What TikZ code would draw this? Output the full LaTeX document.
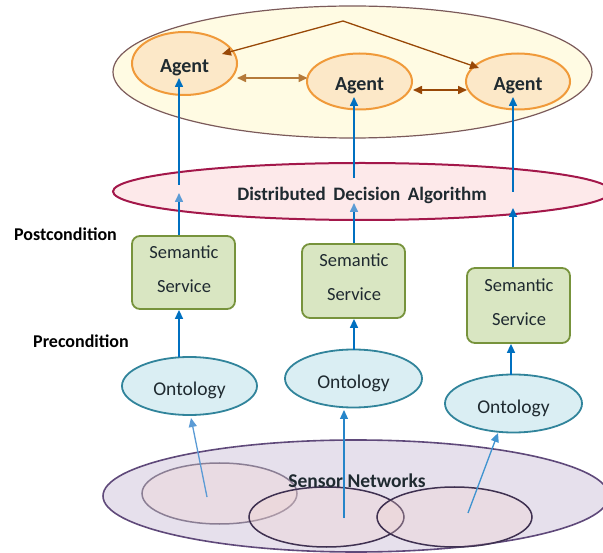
\documentclass[tikz,border=0pt]{standalone}
\usepackage{fontspec}
\setmainfont{Carlito}
\usetikzlibrary{shapes.geometric,arrows.meta}

\definecolor{masfill}{HTML}{FFFBE3}
\definecolor{masline}{HTML}{7B5A5A}
\definecolor{agentfill}{HTML}{FCE8C8}
\definecolor{agentline}{HTML}{F09A3A}
\definecolor{ddafill}{HTML}{FDE9EA}
\definecolor{ddaline}{HTML}{A3174A}
\definecolor{svcfill}{HTML}{D9E6C2}
\definecolor{svcline}{HTML}{77933C}
\definecolor{ontofill}{HTML}{DAEEF3}
\definecolor{ontoline}{HTML}{31849B}
\definecolor{snfill}{HTML}{E6E0EC}
\definecolor{snline}{HTML}{5F497A}
\definecolor{subfill}{HTML}{F2D2CF}
\definecolor{subline}{HTML}{3F3151}
\definecolor{flow}{HTML}{0070C0}
\definecolor{flowlight}{HTML}{5B9BD5}
\definecolor{brownA}{HTML}{984807}
\definecolor{brownB}{HTML}{B57A3A}
\definecolor{ink}{HTML}{1F2A30}

\tikzset{
  oval/.style={ellipse, inner sep=0pt, line width=1.6pt},
  agent/.style={oval, fill=agentfill, draw=agentline, line width=2pt,
    font=\fontsize{20}{22}\selectfont\bfseries, text=ink, text height=19pt, text depth=0pt},
  onto/.style={oval, fill=ontofill, draw=ontoline, line width=1.8pt,
    font=\fontsize{19.5}{22}\selectfont, text=ink, text height=20pt, text depth=0pt},
  svcbox/.style={rectangle, rounded corners=8pt, fill=svcfill, draw=svcline, line width=1.8pt,
    minimum width=103pt, inner sep=0pt},
  svctext/.style={anchor=base, inner sep=0pt, font=\fontsize{18.5}{20}\selectfont, text=ink},
  cond/.style={anchor=base, inner sep=0pt, font=\fontsize{18}{20}\selectfont\bfseries},
  flowarrow/.style={draw=flow, line width=1.6pt, -{Triangle[length=9pt,width=8pt]}},
  sensearrow/.style={line width=1.3pt, -{Triangle[length=9pt,width=8pt]}},
  talk/.style={line width=1.6pt, {Triangle[length=9pt,width=8pt]}-{Triangle[length=9pt,width=8pt]}},
}

\begin{document}
\begin{tikzpicture}[x=1pt, y=-1pt]
\useasboundingbox (0,0) rectangle (603,553);

% multi-agent layer
\node[oval, fill=masfill, draw=masline, line width=1.2pt,
  minimum width=479pt, minimum height=132pt] (mas) at (352.5,72) {};
\node[agent, minimum width=105pt, minimum height=63pt] (a1) at (184.5,63.5) {Agent};
\node[agent, minimum width=105pt, minimum height=56pt] (a2) at (359.5,81.5) {Agent};
\node[agent, minimum width=104pt, minimum height=56pt] (a3) at (518,81.5) {Agent};

% decision layer
\node[oval, fill=ddafill, draw=ddaline, line width=2pt,
  minimum width=498pt, minimum height=57pt,
  font=\fontsize{19}{21}\selectfont\bfseries, text=ink, text height=18pt, text depth=0pt] (dda) at (362,191.5)
  {Distributed\hspace{0.4em}Decision\hspace{0.4em}Algorithm};

% semantic services
\node[svcbox, minimum height=73pt] (s1) at (183.5,272.5) {};
\node[svcbox, minimum height=74pt] (s2) at (353.5,281) {};
\node[svcbox, minimum height=75pt] (s3) at (518.5,305.5) {};
\node[svctext] (s1a) at (184,258.5) {Semantic};
\node[svctext] (s1b) at (184,292.5) {Service};
\node[svctext] (s2a) at (354,267) {Semantic};
\node[svctext] (s2b) at (354,301) {Service};
\node[svctext] (s3a) at (519,291.5) {Semantic};
\node[svctext] (s3b) at (519,325.5) {Service};

% ontologies
\node[onto, minimum width=135pt, minimum height=58pt] (o1) at (189.5,386) {Ontology};
\node[onto, minimum width=137pt, minimum height=58pt] (o2) at (353.5,378.5) {Ontology};
\node[onto, minimum width=137pt, minimum height=58pt] (o3) at (513.5,403.5) {Ontology};

% sensor networks
\node[oval, fill=snfill, draw=snline, line width=1.6pt,
  minimum width=506pt, minimum height=112pt] (sn) at (356,496) {};
\node[oval, fill=subfill, fill opacity=0.3, draw=subline, draw opacity=0.55, line width=1.5pt,
  minimum width=155pt, minimum height=61pt] (e1) at (219.5,493.5) {};
\node[oval, fill=subfill, fill opacity=0.3, draw=subline, line width=1.5pt,
  minimum width=155pt, minimum height=60pt] (e2) at (326.5,517) {};
\node[oval, fill=subfill, fill opacity=0.3, draw=subline, line width=1.5pt,
  minimum width=155pt, minimum height=60pt] (e3) at (454.5,517) {};
\node[anchor=base, inner sep=0pt, font=\fontsize{19.5}{21}\selectfont\bfseries, text=ink] (snt)
  at (357,487) {Sensor Networks};

% side labels
\node[cond] (post) at (65.5,240.5) {Postcondition};
\node[cond] (pre) at (81,347.5) {Precondition};

% interaction between agents
\coordinate (peak) at (343,21);
\coordinate (in1) at (222,54);
\coordinate (in3) at (479,68);
\draw[brownA, line width=1.3pt, {Triangle[length=9pt,width=8pt]}-{Triangle[length=9pt,width=8pt]}]
  (in1) -- (peak) -- (in3);
\coordinate (t12a) at (237,78);
\coordinate (t12b) at (307.5,78);
\coordinate (t23a) at (413,90);
\coordinate (t23b) at (467,90);
\draw[talk, brownB] (t12a) -- (t12b);
\draw[talk, brownA] (t23a) -- (t23b);

% service results into the decision algorithm
\coordinate (d1in) at (179,193);
\coordinate (d2in) at (354,203);
\coordinate (d3in) at (513,208);
\draw[flowarrow, -{Triangle[length=9pt,width=8pt,fill=flowlight,color=flowlight]}] (s1.north -| d1in) -- (d1in);
\draw[flowarrow, -{Triangle[length=9pt,width=8pt,fill=flowlight,color=flowlight]}] (s2.north -| d2in) -- (d2in);
\draw[flowarrow] (s3.north -| d3in) -- (d3in);

% decisions up to the agents
\coordinate (d1out) at (179,185);
\coordinate (d2out) at (354,178);
\coordinate (d3out) at (513,192);
\coordinate (a1in) at (179,78);
\coordinate (a2in) at (354,97);
\coordinate (a3in) at (513,97);
\draw[flowarrow] (d1out) -- (a1in);
\draw[flowarrow] (d2out) -- (a2in);
\draw[flowarrow] (d3out) -- (a3in);

% ontologies feed the services
\coordinate (o1top) at (179,357.5);
\coordinate (o2top) at (354,350);
\coordinate (o3top) at (511,375);
\draw[flowarrow] (o1top) -- (s1.south -| o1top);
\draw[flowarrow] (o2top) -- (s2.south -| o2top);
\draw[flowarrow] (o3top) -- (s3.south -| o3top);

% sensor data to the ontologies
\coordinate (e1src) at (207,497);
\coordinate (e2src) at (344,518);
\coordinate (e3src) at (468,513);
\coordinate (o1in) at (191,418);
\coordinate (o2in) at (344,410);
\coordinate (o3in) at (498,433);
\draw[sensearrow, draw=flowlight, fill=flowlight] (e1src) -- (o1in);
\draw[sensearrow, draw=flow!85!white, fill=flow!85!white] (e2src) -- (o2in);
\draw[sensearrow, draw=flow!75!white, fill=flow!75!white] (e3src) -- (o3in);
\end{tikzpicture}
\end{document}
